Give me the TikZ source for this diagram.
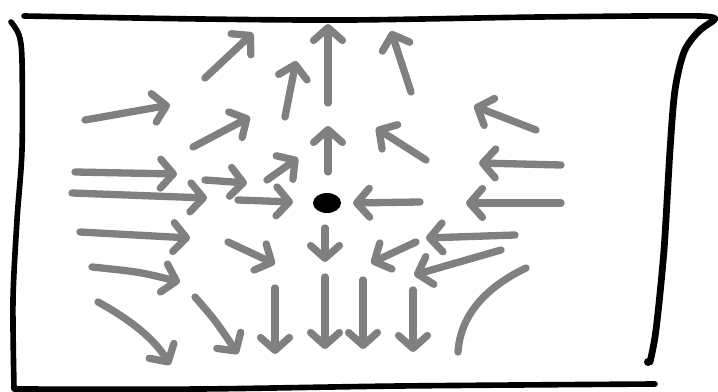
\documentclass[tikz,border=0pt]{standalone}
\usepackage{xcolor,tikz}
\usetikzlibrary{arrows.meta}
\definecolor{ink}{HTML}{000000}
\definecolor{flow}{HTML}{808080}

\begin{document}
\begin{tikzpicture}[x=0.025cm,y=-0.025cm,>={Straight Barb[length=0.32cm,width=0.72cm,round]},
  vec/.style={->,line width=5.2pt,color=flow,line cap=round,line join=round},
  rim/.style={line width=4pt,color=ink,line cap=round,line join=round}]
\useasboundingbox (0,0) rectangle (718,392);
% the box, drawn by hand
\draw[rim] plot[smooth] coordinates {(24,16) (200,19) (350,20) (540,17) (700,16) (713,21)};
\draw[rim,line width=4.8pt] plot[smooth] coordinates {(713,21) (698,32) (684,52) (675,90) (670,150) (664,250) (656,330) (650,362)};
\fill[ink] (648,362) circle (4);
\draw[rim] plot[smooth] coordinates {(11,22) (19,35) (22,60) (22,150) (17,220) (13,300) (14,388)};
\draw[rim] plot[smooth] coordinates {(14,389) (200,389) (400,386) (655,384)};
\fill[ink] (327,203) ellipse (14 and 10);
% flow towards the dot from the left
\draw[vec] (85,120)--(170,105);
\draw[vec] (75,172)--(177,174);
\draw[vec] (72,193)--(207,198);
\draw[vec] (80,232)--(190,238);
\draw[vec] (92,267) .. controls (140,272) .. (180,282);
\draw[vec] (98,302) .. controls (140,325) and (158,345) .. (170,365);
\draw[vec] (195,297) .. controls (215,320) .. (238,354);
\draw[vec] (205,180)--(247,183);
\draw[vec] (238,200)--(293,202);
\draw[vec] (228,242)--(275,264);
\draw[vec] (267,180)--(298,158);
\draw[vec] (193,147)--(250,117);
\draw[vec] (205,78)--(253,33);
% upwards
\draw[vec] (285,117)--(296,61);
\draw[vec] (328,103)--(328,24);
\draw[vec] (328,172)--(328,126);
\draw[vec] (411,92)--(391,31);
% from the right
\draw[vec] (426,160)--(376,128);
\draw[vec] (536,130)--(474,106);
\draw[vec] (561,165)--(479,163);
\draw[vec] (420,202)--(353,203);
\draw[vec] (561,203)--(466,203);
\draw[vec] (515,235)--(426,238);
\draw[vec] (501,250)--(414,275);
\draw[vec] (416,242)--(371,263);
% downwards
\draw[vec] (325,228)--(325,262);
\draw[vec] (275,288)--(275,354);
\draw[vec] (325,277)--(325,349);
\draw[vec] (363,280)--(363,349);
\draw[vec] (413,290)--(413,352);
\draw[vec,-] (526,268) .. controls (480,290) and (460,320) .. (458,352);
\end{tikzpicture}
\end{document}
